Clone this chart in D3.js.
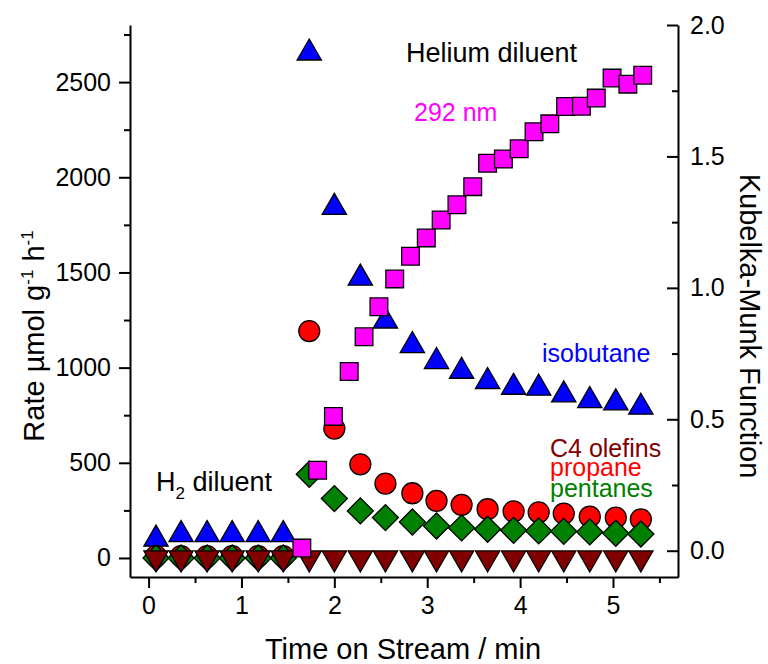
<!DOCTYPE html>
<html>
<head>
<meta charset="utf-8">
<script src="https://d3js.org/d3.v7.min.js"></script>
<style>
body { margin: 0; background: #fff; }
svg { font-family: 'Liberation Sans', Arial, sans-serif; }
</style>
</head>
<body>
<div id="chart"></div>
<script>
// time on stream (min) for the rate data
var time = [0.08, 0.35, 0.63, 0.90, 1.18, 1.45, 1.73, 2.00, 2.28, 2.55, 2.84, 3.10, 3.37, 3.65, 3.93, 4.20, 4.47, 4.75, 5.03, 5.30];
// rates, umol g-1 h-1
var isobutane = [99, 123, 123, 123, 123, 123, 2653, 1842, 1470, 1245, 1116, 1032, 981, 927, 897, 892, 857, 827, 815, 792];
var propane = [10, 10, 10, 10, 10, 10, 1192, 680, 492, 391, 340, 300, 279, 256, 245, 240, 233, 217, 212, 203];
var pentanes = [0, 0, 0, 0, 0, 0, 440, 312, 247, 212, 189, 168, 158, 151, 145, 142, 140, 137, 130, 126];
var c4olefins = [0, 0, 0, 0, 0, 0, 0, 0, 0, 0, 0, 0, 0, 0, 0, 0, 0, 0, 0, 0];

// Kubelka-Munk at 292 nm (right axis)
var kmTime = [1.65, 1.82, 1.99, 2.16, 2.32, 2.48, 2.65, 2.82, 2.99, 3.15, 3.32, 3.49, 3.65, 3.82, 3.99, 4.15, 4.32, 4.49, 4.66, 4.82, 4.99, 5.16, 5.32];
var km = [0.010, 0.306, 0.511, 0.682, 0.814, 0.928, 1.034, 1.120, 1.190, 1.258, 1.316, 1.385, 1.474, 1.490, 1.529, 1.594, 1.624, 1.690, 1.691, 1.722, 1.798, 1.775, 1.809];

var xTicks = [0, 1, 2, 3, 4, 5];
var xMinor = [0.5, 1.5, 2.5, 3.5, 4.5, 5.5];
var yTicks = [0, 500, 1000, 1500, 2000, 2500];
var yMinor = [250, 750, 1250, 1750, 2250, 2750];
var y2Ticks = [0, 0.5, 1.0, 1.5, 2.0];
var y2Minor = [0.25, 0.75, 1.25, 1.75];

var W = 768, H = 664;
var mLeft = 130, mRight = 678, mTop = 25, mBottom = 577;

var svg = d3.select("#chart").append("svg").attr("width", W).attr("height", H);

var x = d3.scaleLinear().domain([-0.2, 5.7]).range([mLeft, mRight]);
var y = d3.scaleLinear().domain([-100, 2800]).range([mBottom, mTop]);
var y2 = d3.scaleLinear().domain([-0.1, 2.0]).range([mBottom, mTop]);

function styleAxis(g, fs) {
  g.selectAll("path.domain").attr("stroke", "#000").attr("stroke-width", 2);
  g.selectAll(".tick line").attr("stroke", "#000").attr("stroke-width", 2);
  g.selectAll(".tick text").attr("fill", "#000").style("font-size", fs + "px")
    .style("font-family", "'Liberation Sans', Arial, sans-serif");
}

// bottom axis
var gx = svg.append("g").attr("transform", "translate(0," + mBottom + ")")
  .call(d3.axisBottom(x).tickValues(xTicks).tickSize(11).tickSizeOuter(0).tickPadding(8).tickFormat(d3.format("d")));
styleAxis(gx, 25);
var gxm = svg.append("g").attr("transform", "translate(0," + mBottom + ")")
  .call(d3.axisBottom(x).tickValues(xMinor).tickSize(6).tickFormat(""));
gxm.select("path.domain").remove();
styleAxis(gxm, 25);

// left axis
var gy = svg.append("g").attr("transform", "translate(" + mLeft + ",0)")
  .call(d3.axisLeft(y).tickValues(yTicks).tickSize(11).tickSizeOuter(0).tickPadding(8).tickFormat(d3.format("d")));
styleAxis(gy, 25);
var gym = svg.append("g").attr("transform", "translate(" + mLeft + ",0)")
  .call(d3.axisLeft(y).tickValues(yMinor).tickSize(6).tickFormat(""));
gym.select("path.domain").remove();
styleAxis(gym, 25);

// right axis, ticks point inward
var gy2 = svg.append("g").attr("transform", "translate(" + mRight + ",0)")
  .call(d3.axisRight(y2).tickValues(y2Ticks).tickSize(-11).tickSizeOuter(0).tickPadding(12).tickFormat(d3.format(".1f")));
styleAxis(gy2, 25);
var gy2m = svg.append("g").attr("transform", "translate(" + mRight + ",0)")
  .call(d3.axisRight(y2).tickValues(y2Minor).tickSize(-6).tickFormat(""));
gy2m.select("path.domain").remove();
styleAxis(gy2m, 25);

// axis titles
svg.append("text").attr("x", 403).attr("y", 659)
  .attr("text-anchor", "middle").style("font-size", "29px").text("Time on Stream / min");

var lt = svg.append("text").attr("transform", "translate(44,336) rotate(-90)")
  .attr("text-anchor", "middle").style("font-size", "29px");
lt.append("tspan").text("Rate \u00b5mol g");
lt.append("tspan").attr("dy", -11).style("font-size", "17px").text("-1");
lt.append("tspan").attr("dy", 11).text(" h");
lt.append("tspan").attr("dy", -11).style("font-size", "17px").text("-1");

svg.append("text").attr("transform", "translate(740,326) rotate(90)")
  .attr("text-anchor", "middle").style("font-size", "29px").text("Kubelka-Munk Function");

// markers
var tri = d3.symbol().type(d3.symbolTriangle).size(255);
var circ = d3.symbol().type(d3.symbolCircle).size(346);
var sq = d3.symbol().type(d3.symbolSquare).size(313);
var dia = d3.symbol().type(d3.symbolSquare).size(338);

function plotSeries(vals, path, color, rot) {
  svg.append("g").selectAll("path")
    .data(vals)
    .enter().append("path")
    .attr("d", path)
    .attr("transform", function(d, i) {
      return "translate(" + x(time[i]) + "," + y(d) + ") rotate(" + rot + ")";
    })
    .attr("fill", color)
    .attr("stroke", "#000")
    .attr("stroke-width", 1.3);
}

plotSeries(isobutane, tri, "#0000ff", 0);
plotSeries(propane, circ, "#ff0000", 0);
plotSeries(pentanes, dia, "#008000", 45);
plotSeries(c4olefins, tri, "#800000", 180);

svg.append("g").selectAll("path")
  .data(km)
  .enter().append("path")
  .attr("d", sq)
  .attr("transform", function(d, i) { return "translate(" + x(kmTime[i]) + "," + y2(d) + ")"; })
  .attr("fill", "#ff00ff")
  .attr("stroke", "#000")
  .attr("stroke-width", 1.3);

// annotations
svg.append("text").attr("x", 406).attr("y", 62).style("font-size", "27px").text("Helium diluent");
svg.append("text").attr("x", 414).attr("y", 121).style("font-size", "25px").attr("fill", "#ff00ff").text("292 nm");
svg.append("text").attr("x", 542).attr("y", 362).style("font-size", "25px").attr("fill", "#0000ff").text("isobutane");
svg.append("text").attr("x", 550).attr("y", 457).style("font-size", "25px").attr("fill", "#800000").text("C4 olefins");
svg.append("text").attr("x", 550).attr("y", 476).style("font-size", "25px").attr("fill", "#ff0000").text("propane");
svg.append("text").attr("x", 550).attr("y", 497).style("font-size", "25px").attr("fill", "#008000").text("pentanes");

var h2 = svg.append("text").attr("x", 156).attr("y", 491).style("font-size", "27px");
h2.append("tspan").text("H");
h2.append("tspan").attr("dy", 8).style("font-size", "17px").text("2");
h2.append("tspan").attr("dy", -8).text(" diluent");
</script>
</body>
</html>
